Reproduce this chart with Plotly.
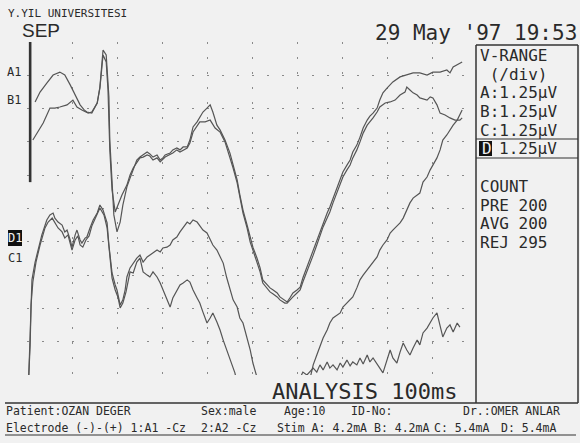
import plotly.graph_objects as go

# ---------------- data (time in ms, amplitude in µV, 1.25 µV/div) ----------------
A1 = [(1.8,10.25),(2.9,10.62),(4.4,10.96),(5.8,11.26),(7.3,11.37),(8.4,11.26),(9.6,10.89),(10.2,10.70),
      (11.1,10.40),(11.8,10.14),(12.7,9.95),(13.3,9.87),(14.4,9.83),(15.6,10.21),(16.2,10.81),(16.9,12.20),
      (17.6,12.01),(17.8,11.45),(18.2,10.44),(18.4,8.82),(18.9,7.13),(19.3,6.01),(20.0,5.37),(20.7,5.74),
      (21.3,6.38),(22.2,7.06),(22.9,7.39),(23.6,7.70),(24.4,8.07),(25.1,8.18),(25.8,8.26),(26.7,8.37),
      (27.3,8.30),(28.0,8.18),(28.9,8.26),(29.6,8.07),(30.2,8.15),(30.7,8.26),(31.8,8.33),(32.4,8.45),
      (33.3,8.52),(34.0,8.45),(34.7,8.56),(35.6,8.56),(36.2,8.82),(36.9,9.31),(37.8,9.50),(38.4,9.68),
      (39.1,9.87),(40.0,10.02),(40.7,10.14),(41.3,9.87),(42.2,9.38),(42.9,9.20),(44.0,8.82),(45.1,8.33),
      (45.8,7.88),(46.7,7.32),(47.3,6.76),(48.0,6.19),(48.9,5.63),(49.6,5.14),(50.2,4.80),(51.1,4.39),
      (51.8,4.02),(52.4,3.57),(53.3,3.38),(54.0,3.27),(54.7,3.19),(55.6,3.08),(56.2,2.93),(57.3,2.82),
      (57.8,2.74),(58.4,2.89),(59.1,3.08),(60.0,3.19),(60.7,3.30),(61.3,3.64),(62.2,4.05),(62.9,4.39),
      (63.6,4.69),(64.4,5.07),(65.1,5.37),(65.8,5.74),(66.7,6.08),(67.3,6.31),(68.0,6.64),(68.9,7.02),
      (69.6,7.32),(70.2,7.62),(71.1,7.88),(71.8,8.07),(72.4,8.37),(73.3,8.63),(74.0,8.93),(74.7,9.27),
      (75.6,9.57),(76.2,9.72),(76.9,9.83),(77.8,10.02),(78.4,10.32),(79.1,10.59),(80.0,10.77),(81.3,11.00),
      (82.9,11.19),(84.4,11.26),(85.8,11.34),(87.3,11.34),(88.9,11.26),(90.2,11.37),(91.8,11.37),
      (93.3,11.45),(94.0,11.34),(94.7,11.56),(95.6,11.64),(96.7,11.75)]

B1 = [(1.3,8.82),(2.2,9.08),(3.6,9.46),(5.1,10.02),(6.2,10.02),(7.3,10.06),(8.9,10.14),(10.2,10.32),
      (11.1,10.06),(12.2,9.95),(13.6,9.83),(14.4,9.87),(15.6,10.21),(16.2,10.77),(16.9,12.01),(17.6,11.75),
      (18.0,10.70),(18.4,8.45),(18.9,6.94),(19.6,6.12),(20.2,6.38),(21.1,6.76),(22.2,7.13),(22.9,7.51),
      (23.6,7.77),(24.4,8.00),(25.1,8.15),(25.8,8.18),(26.7,8.26),(27.3,8.22),(28.0,8.07),(28.9,8.15),
      (29.6,8.00),(30.7,8.18),(31.8,8.26),(32.4,8.33),(33.3,8.45),(34.0,8.37),(35.6,8.52),(36.2,8.71),
      (36.9,9.12),(37.8,9.38),(38.4,9.50),(39.6,9.50),(40.7,9.57),(41.8,9.27),(42.9,9.12),(44.0,8.75),
      (45.1,8.18),(45.8,7.77),(46.7,7.21),(47.3,6.64),(48.0,6.08),(48.9,5.52),(49.6,4.99),(50.2,4.69),
      (51.1,4.24),(51.8,3.87),(52.4,3.45),(53.3,3.27),(54.0,3.12),(54.7,3.04),(55.6,2.93),(56.2,2.82),
      (57.3,2.70),(57.8,2.70),(58.4,2.82),(59.1,2.93),(60.0,3.08),(60.7,3.19),(61.3,3.49),(62.2,3.87),
      (62.9,4.24),(63.6,4.50),(64.4,4.88),(65.1,5.22),(65.8,5.56),(66.7,5.89),(67.3,6.12),(68.0,6.46),
      (68.9,6.83),(69.6,7.13),(70.2,7.43),(71.1,7.70),(71.8,7.88),(72.4,8.15),(73.3,8.45),(74.0,8.75),
      (74.7,9.08),(75.6,9.38),(76.2,9.50),(76.9,9.65),(77.8,9.87),(78.4,10.06),(79.6,10.21),(80.7,10.25),
      (81.8,10.32),(82.9,10.51),(84.0,10.62),(84.4,10.81),(85.1,10.70),(85.8,10.59),(86.7,10.51),
      (87.3,10.40),(88.9,10.32),(89.6,10.44),(90.2,10.40),(91.1,10.14),(91.8,9.83),(92.9,9.76),
      (94.0,9.65),(95.1,9.57),(96.2,9.57),(96.7,9.65)]

C1 = [(0.4,0.00),(0.7,1.13),(0.9,2.63),(1.3,3.49),(2.0,4.24),(2.9,4.88),(4.0,5.52),(4.7,5.74),(5.6,5.89),
      (6.2,5.74),(6.9,5.52),(7.8,5.37),(8.4,5.14),(9.1,5.26),(9.6,4.88),(10.0,4.69),(10.7,5.07),(11.3,5.22),
      (11.8,4.88),(12.4,4.80),(13.1,5.07),(13.8,5.22),(14.4,5.59),(15.1,5.89),(15.8,6.12),(16.2,6.27),
      (17.1,6.01),(17.8,5.52),(18.4,4.50),(18.9,3.64),(19.6,3.19),(20.2,2.93),(20.7,2.52),(21.3,2.70),
      (22.0,3.12),(22.4,3.49),(22.9,3.87),(23.6,3.83),(24.4,4.24),(25.1,4.39),(25.8,3.87),(26.7,3.75),
      (27.3,3.68),(28.0,3.87),(28.9,3.68),(29.6,3.45),(30.2,3.19),(31.1,2.82),(31.8,2.55),(32.4,2.89),
      (33.3,3.19),(34.0,3.38),(34.7,3.45),(35.6,3.57),(36.2,3.49),(36.9,3.19),(37.8,2.89),(38.4,2.70),
      (39.1,2.36),(40.0,1.95),(40.7,2.14),(41.3,2.33),(42.2,1.99),(42.9,1.69),(43.6,1.31),(44.4,0.94),
      (45.1,0.64),(45.8,0.30),(46.2,0.08),(47.3,-0.75),(54.0,-2.06),(59.6,-0.75),(60.7,-0.11),(61.3,0.11),
      (62.2,0.00),(63.6,0.26),(64.4,0.11),(65.1,0.38),(65.8,0.19),(66.7,0.49),(67.3,0.26),(68.0,0.38),
      (68.9,0.19),(69.6,0.45),(70.2,0.30),(71.1,0.56),(71.8,0.34),(72.4,0.49),(73.3,0.38),(74.0,0.64),
      (74.7,0.41),(75.6,0.75),(76.2,0.49),(76.9,0.64),(77.8,0.38),(78.4,0.26),(79.1,0.08),(80.0,0.56),
      (80.7,0.94),(81.3,0.64),(82.2,0.45),(82.9,0.86),(83.6,1.20),(84.4,0.94),(85.1,0.75),(85.8,1.01),
      (86.7,1.31),(87.3,1.13),(88.0,1.58),(88.9,1.76),(89.6,1.95),(90.2,2.14),(91.1,2.33),(91.8,1.88),
      (92.4,1.43),(93.3,1.76),(94.0,1.88),(94.7,1.61),(95.6,1.95),(96.2,1.80)]

D1 = [(0.4,0.00),(0.7,1.31),(0.9,2.82),(1.1,3.57),(1.8,4.24),(2.4,4.69),(3.3,5.26),(4.4,5.82),(5.1,6.01),
      (5.8,6.08),(6.2,5.89),(6.9,5.74),(7.8,5.63),(8.4,5.37),(8.9,5.44),(9.6,5.07),(10.0,4.80),(10.7,5.26),
      (11.1,5.44),(11.8,5.07),(12.2,4.95),(12.9,5.14),(13.3,5.18),(14.0,5.52),(14.7,5.82),(15.6,6.08),
      (16.2,6.38),(16.9,6.19),(17.8,5.71),(18.2,4.88),(18.9,3.83),(19.6,3.38),(20.0,3.19),(20.7,2.63),
      (21.3,2.82),(21.8,3.19),(22.2,3.68),(22.9,4.02),(23.6,4.20),(24.4,4.39),(25.1,4.50),(25.8,4.24),
      (26.7,4.43),(27.3,4.50),(28.0,4.58),(28.9,4.69),(29.6,4.62),(30.2,4.77),(31.1,4.80),(31.8,4.88),
      (32.4,5.07),(33.3,5.18),(34.0,5.37),(34.7,5.52),(35.6,5.74),(36.2,5.67),(36.9,5.82),(37.8,5.74),
      (38.4,5.59),(39.1,5.44),(40.0,5.33),(40.7,5.07),(41.3,4.88),(42.2,4.69),(42.9,4.43),(43.6,4.20),
      (44.4,3.64),(45.1,3.19),(45.8,2.82),(46.7,2.55),(47.3,2.14),(48.0,1.95),(48.9,1.39),(49.6,0.94),
      (50.2,0.45),(51.1,-0.08),(52.2,-0.94),(57.3,-2.06),(61.8,-0.94),(62.9,-0.19),(63.6,0.38),(64.4,0.75),
      (65.1,1.05),(65.8,1.39),(66.7,1.69),(67.3,1.95),(68.0,2.14),(68.9,2.25),(69.6,2.33),(70.2,2.55),
      (71.1,2.70),(71.8,2.82),(72.4,2.93),(73.3,3.27),(74.0,3.57),(74.7,3.75),(75.6,3.94),(76.2,4.05),
      (76.9,4.24),(77.8,4.43),(78.4,4.69),(79.1,4.88),(80.0,5.07),(80.7,5.33),(81.3,5.44),(82.2,5.59),
      (82.9,5.71),(83.6,5.89),(84.4,6.19),(85.1,6.46),(85.8,6.64),(86.7,6.76),(87.3,6.83),(88.0,7.24),
      (88.9,7.43),(89.6,7.70),(90.2,7.88),(91.1,8.15),(91.8,8.45),(92.4,8.82),(93.3,9.01),(94.0,9.20),
      (94.7,9.38),(95.6,9.57),(96.2,9.76),(96.7,9.95)]

ARTIFACT = [(0.7, 12.5), (0.7, 7.24)]          # stimulus artifact
ORIGIN = [(0.0, -0.12)]                         # Δ origin marker

X_TICKS = [10, 20, 30, 40, 50, 60, 70, 80, 90]
Y_TICKS = [1.25, 2.5, 3.75, 5.0, 6.25, 7.5, 8.75, 10.0, 11.25, 12.5]
CHANNEL_LABELS = ["A1", "B1", "D1", "C1"]
VRANGE_HEAD = ["V-RANGE", " (/div)"]
VRANGE = ["A:1.25µV", "B:1.25µV", "C:1.25µV", "D:1.25µV"]
COUNTS = ["COUNT", "PRE 200", "AVG 200", "REJ 295"]

# ---------------- figure ----------------
W, H = 580, 443
L, R, T, B = 27, 477, 42, 375   # plot area in pixels
BG = "#f1f1f1"
INK = "#2a2a2a"
TRACE = "#555555"
MONO = "DejaVu Sans Mono"


def fx(px):
    return (px - L) / (R - L)


def fy(py):
    return (B - py) / (B - T)


fig = go.Figure()
for name, ser in [("A1", A1), ("B1", B1), ("C1", C1), ("D1", D1)]:
    fig.add_trace(go.Scatter(x=[p[0] for p in ser], y=[p[1] for p in ser], mode="lines",
                             line=dict(color=TRACE, width=1.2), name=name, hoverinfo="skip"))
fig.add_trace(go.Scatter(x=[p[0] for p in ARTIFACT], y=[p[1] for p in ARTIFACT], mode="lines",
                         line=dict(color="#333", width=2.6), hoverinfo="skip"))
fig.add_trace(go.Scatter(x=[p[0] for p in ORIGIN], y=[p[1] for p in ORIGIN], mode="markers",
                         marker=dict(symbol="triangle-up-open", size=8, color="#444", line=dict(width=1)),
                         cliponaxis=False, hoverinfo="skip"))

fig.update_xaxes(range=[0, 100], tickvals=X_TICKS, showticklabels=False, ticks="",
                 showgrid=True, gridcolor="#8a8a8a", gridwidth=1, griddash="1.5px,13.5px",
                 zeroline=False, showline=False)
fig.update_yaxes(range=[0, 12.5], tickvals=Y_TICKS, showticklabels=False, ticks="",
                 showgrid=True, gridcolor="#8a8a8a", gridwidth=1, griddash="1.5px,13.5px",
                 zeroline=False, showline=False)

ann = []
shapes = []


def text(s, px, py, size, family=MONO, anchor="left", color=INK):
    ann.append(dict(text=s, x=fx(px), y=fy(py), xref="paper", yref="paper", showarrow=False,
                    xanchor=anchor, yanchor="middle", borderpad=0, align="left",
                    font=dict(family=family, size=size, color=color)))


def block(rows, px, py, glyph, spacing_size):
    # several lines in one text; glyph size slightly larger than the line-spacing font
    s = "<br>".join(f'<span style="font-size:{glyph}px">{r}</span>' for r in rows)
    text(s, px, py, spacing_size)


def line(x0, y0, x1, y1, w=1.5, color="#333"):
    shapes.append(dict(type="line", xref="paper", yref="paper", x0=fx(x0), y0=fy(y0), x1=fx(x1), y1=fy(y1),
                       line=dict(color=color, width=w)))


def rect(x0, y0, x1, y1, color="#111"):
    shapes.append(dict(type="rect", xref="paper", yref="paper", x0=fx(x0), y0=fy(y0), x1=fx(x1), y1=fy(y1),
                       line=dict(width=0), fillcolor=color))


# header
text("Y.YIL UNIVERSITESI", 7, 13, 11)
text("SEP", 21, 31, 19, family="Liberation Sans")
text("29 May '97 19:53", 578, 33, 21, anchor="right")

# channel labels
text(CHANNEL_LABELS[0], 6, 72, 12)
text(CHANNEL_LABELS[1], 6, 100, 12)
rect(8, 230, 22, 246)
text(CHANNEL_LABELS[2], 7, 238, 12, color="#f1f1f1")
text(CHANNEL_LABELS[3], 7, 258, 12)

# right panel
line(476, 45, 476, 403)
line(476, 45, 578, 45)
line(578, 45, 578, 403)
line(476, 139, 578, 139, w=1.2)
line(476, 158, 578, 158, w=1.2)
block(VRANGE_HEAD + VRANGE[:3], 479, 93, 16, 14.4)
rect(479, 141, 492, 156)
text(VRANGE[3][0], 481, 148.5, 16, color="#f1f1f1")
text(VRANGE[3][2:], 498, 148.5, 16)
block(COUNTS, 479, 214, 16, 14.4)

text("ANALYSIS 100ms", 364, 391, 22, anchor="center")

# bottom information block
line(5, 403, 578, 403)
line(5, 435, 576, 435, w=1.2)
text("Patient:OZAN DEGER", 5, 411, 11.5)
text("Sex:male", 200, 411, 11.5)
text("Age:10", 283, 411, 11.5)
text("ID-No:", 350, 411, 11.5)
text("Dr.:OMER ANLAR", 462, 411, 11.5)
text("Electrode (-)-(+) 1:A1 -Cz", 5, 428, 11.5)
text("2:A2 -Cz", 200, 428, 11.5)
text("Stim A: 4.2mA", 276, 428, 11.5)
text("B: 4.2mA", 373, 428, 11.5)
text("C: 5.4mA", 433, 428, 11.5)
text("D: 5.4mA", 500, 428, 11.5)

fig.update_layout(width=W, height=H, margin=dict(l=L, r=W - R, t=T, b=H - B),
                  paper_bgcolor=BG, plot_bgcolor=BG, showlegend=False,
                  annotations=ann, shapes=shapes)

fig.write_html("out.html", config={"displayModeBar": False},
               post_script="document.body.style.margin='0';document.body.style.padding='0';"
                           "document.body.style.overflow='hidden';")
